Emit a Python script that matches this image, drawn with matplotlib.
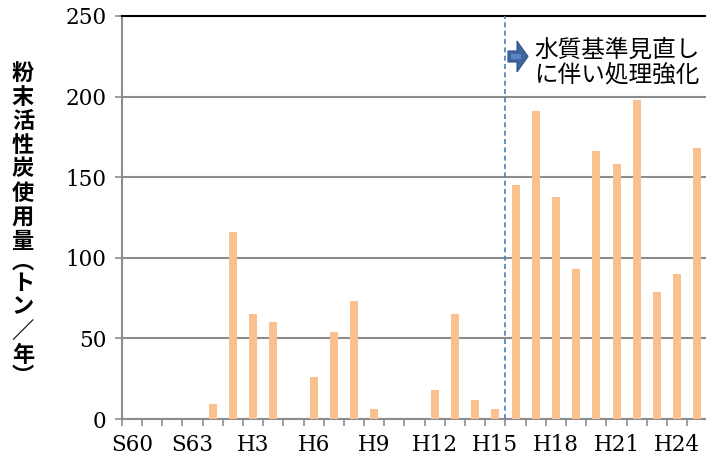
import numpy as np
import matplotlib
matplotlib.use("Agg")
import matplotlib.pyplot as plt
from matplotlib.patches import Polygon

# --- Data ---
years = ["S60", "S61", "S62", "S63"] + [f"H{i}" for i in range(1, 26)]
usage = [0, 0, 0, 0,
         9, 116, 65, 60, 0, 26, 54, 73, 6, 0, 0, 18, 65, 12, 6,
         145, 191, 138, 93, 166, 158, 198, 79, 90, 168]
label_every = 3
change_after = "H15"   # standard revised after this year
ylabel_chars = list("粉末活性炭使用量︵トン／年︶")
note_lines = ["水質基準見直し", "に伴い処理強化"]

# --- Style ---
W, H = 706, 465
BAR = "#FAC090"
GRAY = "#8C8C8C"
JP = ["Noto Sans CJK JP", "DejaVu Sans"]
NUM = "DejaVu Serif"


def px(x, y):
    return x / W, 1 - y / H


fig = plt.figure(figsize=(W / 100, H / 100), dpi=100)
ax = fig.add_axes([121.7 / W, 46 / H, (707.5 - 121.7) / W, 403 / H])

x = np.arange(len(years))
ax.bar(x, usage, width=0.4, color=BAR, zorder=3)

ax.set_xlim(-0.5, len(years) - 0.5)
ax.set_ylim(0, 250)
ax.set_yticks(range(0, 251, 50))
ax.yaxis.grid(True, color=GRAY, lw=1.5, zorder=1)

# ticks between categories, labels every 3 years
ax.set_xticks(x[::label_every])
ax.set_xticklabels(years[::label_every])
ax.set_xticks(np.arange(-0.5, len(years), 1), minor=True)
ax.tick_params(axis="x", which="major", length=0, pad=11)
ax.tick_params(axis="x", which="minor", length=5, width=1.2, color=GRAY)
ax.tick_params(axis="y", length=5, width=1.2, color=GRAY, pad=6)
ax.tick_params(axis="both", which="major", labelsize=15.5, labelfontfamily=NUM)

for side in ["left", "bottom"]:
    ax.spines[side].set_color(GRAY)
    ax.spines[side].set_linewidth(1.5)
ax.spines["right"].set_visible(False)
ax.spines["top"].set_color("black")
ax.spines["top"].set_linewidth(1.5)

# dashed marker between H15 and H16
ax.axvline(years.index(change_after) + 0.5, color="#4A7EBB", lw=1.2,
           ls=(0, (3, 2)), zorder=4)

# vertical y label
yy = 73
for ch in ylabel_chars:
    paren = ch in "︵︶"
    if paren:
        yy -= 3
    fig.text(*px(23, yy), ch, family=JP, fontsize=16, weight="bold",
             ha="center", va="center")
    yy += 21 if paren else 24

# note with arrow
arrow = [(508, 51), (517, 51), (517, 41), (528, 56.5), (517, 72), (517, 62), (508, 62)]
fig.patches.append(Polygon([px(*p) for p in arrow], closed=True,
                           transform=fig.transFigure, facecolor="#3F679E",
                           edgecolor="#2F528F", lw=0.8))
fig.patches.append(Polygon([px(*p) for p in [(511, 54), (521, 54), (521, 59), (511, 59)]],
                           closed=True, transform=fig.transFigure,
                           facecolor="#5A86C5", edgecolor="none"))
for i, line in enumerate(note_lines):
    fig.text(*px(534, 50 + 25 * i), line, family=JP, fontsize=17,
             ha="left", va="center")

fig.savefig("out.png", dpi=100)
